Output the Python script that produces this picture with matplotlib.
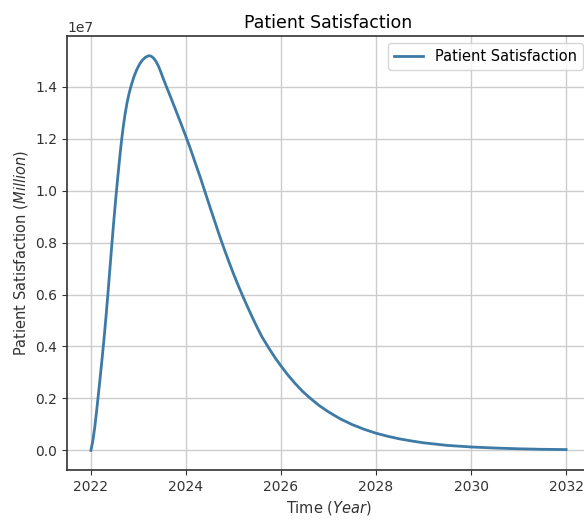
import numpy as np
import matplotlib
matplotlib.use('Agg')
import matplotlib.pyplot as plt

# Roky simulace a spokojenost pacientů (v jednotkách 1e7)
years = [2022.00, 2022.04, 2022.08, 2022.12, 2022.16, 2022.20, 2022.24, 2022.28,
         2022.32, 2022.36, 2022.40, 2022.44, 2022.48, 2022.52, 2022.56, 2022.60,
         2022.64, 2022.68, 2022.72, 2022.76, 2022.80, 2022.84, 2022.90, 2022.96,
         2023.02, 2023.08, 2023.15, 2023.22, 2023.27, 2023.32, 2023.37, 2023.42,
         2023.47, 2023.52, 2023.59, 2023.70, 2023.80, 2023.90, 2024.00, 2024.10,
         2024.20, 2024.30, 2024.40, 2024.50, 2024.60, 2024.70, 2024.80, 2024.90,
         2025.00, 2025.10, 2025.20, 2025.30, 2025.40, 2025.50, 2025.60, 2025.75,
         2025.90, 2026.00, 2026.15, 2026.30, 2026.45, 2026.60, 2026.80, 2027.00,
         2027.25, 2027.50, 2027.75, 2028.00, 2028.25, 2028.50, 2028.75, 2029.00,
         2029.25, 2029.50, 2029.75, 2030.00, 2030.50, 2031.00, 2031.50, 2032.00]
satisfaction = [0.000, 0.036, 0.088, 0.152, 0.220, 0.290, 0.362, 0.438,
                0.520, 0.608, 0.700, 0.792, 0.880, 0.964, 1.042, 1.116,
                1.186, 1.245, 1.296, 1.338, 1.372, 1.400, 1.436, 1.464,
                1.486, 1.502, 1.514, 1.520, 1.5175, 1.510, 1.4975, 1.480,
                1.4575, 1.4325, 1.400, 1.350, 1.303, 1.256, 1.208, 1.158,
                1.105, 1.052, 0.996, 0.940, 0.885, 0.830, 0.778, 0.728,
                0.680, 0.635, 0.592, 0.551, 0.511, 0.473, 0.437, 0.392,
                0.350, 0.325, 0.289, 0.257, 0.228, 0.203, 0.173, 0.148,
                0.121, 0.099, 0.081, 0.066, 0.054, 0.044, 0.036, 0.029,
                0.024, 0.019, 0.016, 0.013, 0.009, 0.006, 0.004, 0.003]

x = np.array(years)
y = np.array(satisfaction) * 1e7

fig = plt.figure(figsize=(5.84, 5.20), dpi=100)
ax = fig.add_axes([0.115, 0.096, 0.895, 0.835])

ax.plot(x, y, color='#3d7aa6', linewidth=2, label='Patient Satisfaction')
ax.set_title('Patient Satisfaction', fontsize=12.5)
ax.set_xlabel('Time ($Year$)', fontsize=10.5, color='#333333')
ax.set_ylabel('Patient Satisfaction ($Million$)', fontsize=10.5, color='#333333')
ax.set_xticks([2022, 2024, 2026, 2028, 2030, 2032])
ax.tick_params(labelsize=10, colors='#333333')
ax.yaxis.get_offset_text().set_color('#333333')
for side in ax.spines.values():
    side.set_color('#333333')
    side.set_linewidth(1.2)
ax.grid(True, color='#cccccc', linewidth=1)
ax.legend(loc='upper right', fontsize=10.5)

fig.savefig('out.png', dpi=100)
